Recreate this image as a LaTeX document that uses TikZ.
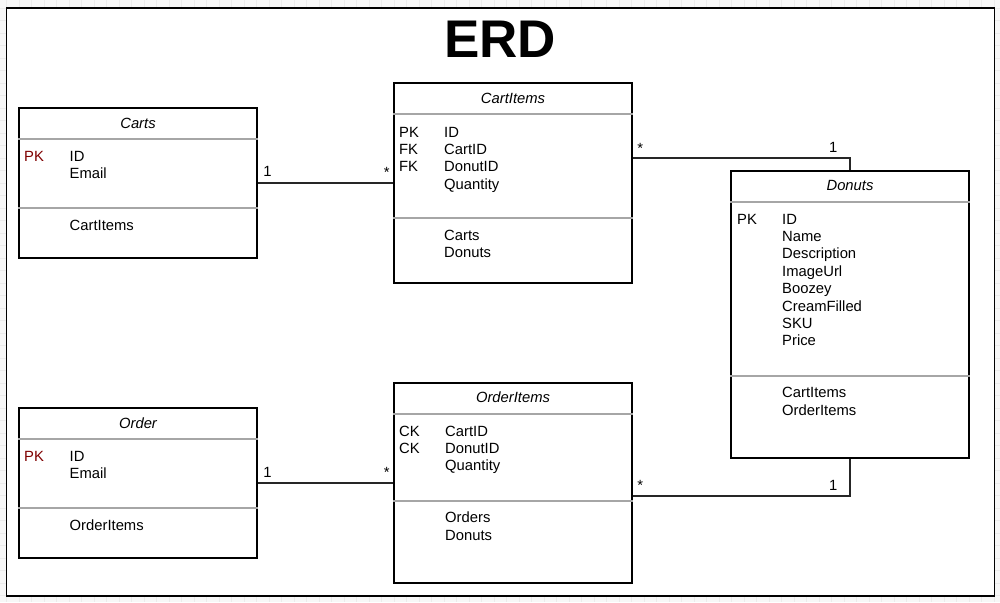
\documentclass[tikz,border=0pt]{standalone}
\usepackage{fontspec}
\setmainfont{Liberation Sans}
\definecolor{pkred}{HTML}{800000}
\definecolor{sepgray}{HTML}{A6A6A6}
\begin{document}
\begin{tikzpicture}[x=1pt, y=-1pt,
  every node/.style={font=\fontsize{14.8}{17.4}\selectfont, inner sep=0pt},
  entity/.style={draw=black, line width=1.3pt, fill=white, minimum width=238pt},
  sep/.style={draw=sepgray, line width=1.2pt},
  hdr/.style={anchor=base, font=\fontsize{14.8}{17.4}\selectfont\itshape},
  key/.style={anchor=base west},
  fld/.style={anchor=base west},
  link/.style={draw=black!85, line width=1.3pt}]
\useasboundingbox (0,0) rectangle (1000,602);
% canvas grid and frame
\fill[gray!6] (0,0) rectangle (1000,602);
\foreach \gx in {6.5,19,...,1000} \draw[gray!16, line width=0.5pt] (\gx,0) -- (\gx,602);
\foreach \gy in {8,20.5,...,602} \draw[gray!16, line width=0.5pt] (0,\gy) -- (1000,\gy);
\node[draw, line width=1.3pt, fill=white, minimum width=988pt, minimum height=588pt] (page) at (500.5,302) {};
\node[font=\fontsize{53}{60}\selectfont\bfseries, anchor=base] (title) at (500,58) {ERD};
% entities
\node[entity, minimum height=150pt] (carts) at (138,183) {};
\node[entity, minimum height=200pt] (cartitems) at (513,183) {};
\node[entity, minimum height=287pt] (donuts) at (850,314.5) {};
\node[entity, minimum height=150pt] (order) at (138,483) {};
\node[entity, minimum height=200pt] (orderitems) at (513,483) {};
\draw[sep] (carts.west |- 0,139) -- (carts.east |- 0,139);
\draw[sep] (carts.west |- 0,208) -- (carts.east |- 0,208);
\draw[sep] (cartitems.west |- 0,114) -- (cartitems.east |- 0,114);
\draw[sep] (cartitems.west |- 0,218) -- (cartitems.east |- 0,218);
\draw[sep] (donuts.west |- 0,202) -- (donuts.east |- 0,202);
\draw[sep] (donuts.west |- 0,376) -- (donuts.east |- 0,376);
\draw[sep] (order.west |- 0,439) -- (order.east |- 0,439);
\draw[sep] (order.west |- 0,508) -- (order.east |- 0,508);
\draw[sep] (orderitems.west |- 0,414) -- (orderitems.east |- 0,414);
\draw[sep] (orderitems.west |- 0,501) -- (orderitems.east |- 0,501);
% Carts
\node[hdr] (carts-h) at (138,128) {Carts};
\node[key, text=pkred] (carts-k0) at (24,161) {PK};
\foreach \f [count=\i from 0] in {ID,Email}
  \node[fld] (carts-f\i) at (69.5,161+17.4*\i) {\f};
\node[fld] (carts-n0) at (69.5,230) {CartItems};
% CartItems
\node[hdr] (cartitems-h) at (513,103) {CartItems};
\foreach \k [count=\i from 0] in {PK,FK,FK}
  \node[key] (cartitems-k\i) at (399,137+17.4*\i) {\k};
\foreach \f [count=\i from 0] in {ID,CartID,DonutID,Quantity}
  \node[fld] (cartitems-f\i) at (444,137+17.4*\i) {\f};
\foreach \f [count=\i from 0] in {Carts,Donuts}
  \node[fld] (cartitems-n\i) at (444,240+17.4*\i) {\f};
% Donuts
\node[hdr] (donuts-h) at (850,190) {Donuts};
\node[key] (donuts-k0) at (737,224) {PK};
\foreach \f [count=\i from 0] in {ID,Name,Description,ImageUrl,Boozey,CreamFilled,SKU,Price}
  \node[fld] (donuts-f\i) at (782,224+17.4*\i) {\f};
\foreach \f [count=\i from 0] in {CartItems,OrderItems}
  \node[fld] (donuts-n\i) at (782,397.7+17.4*\i) {\f};
% Order
\node[hdr] (order-h) at (138,428) {Order};
\node[key, text=pkred] (order-k0) at (24,461) {PK};
\foreach \f [count=\i from 0] in {ID,Email}
  \node[fld] (order-f\i) at (69.5,461+17.4*\i) {\f};
\node[fld] (order-n0) at (69.5,530) {OrderItems};
% OrderItems
\node[hdr] (orderitems-h) at (513,402.7) {OrderItems};
\foreach \k [count=\i from 0] in {CK,CK}
  \node[key] (orderitems-k\i) at (399,436+17.4*\i) {\k};
\foreach \f [count=\i from 0] in {CartID,DonutID,Quantity}
  \node[fld] (orderitems-f\i) at (445,436+17.4*\i) {\f};
\foreach \f [count=\i from 0] in {Orders,Donuts}
  \node[fld] (orderitems-n\i) at (445,522.7+17.4*\i) {\f};
% relations
\draw[link] (carts) -- (cartitems)
  node[pos=0, anchor=base west, xshift=5pt, yshift=7pt] (rel1-a) {1}
  node[pos=1, anchor=base east, xshift=-3pt, yshift=6pt] (rel1-b) {*};
\draw[link] (order) -- (orderitems)
  node[pos=0, anchor=base west, xshift=5pt, yshift=6pt] (rel2-a) {1}
  node[pos=1, anchor=base east, xshift=-3pt, yshift=6pt] (rel2-b) {*};
\draw[link] (cartitems.east |- 0,158) -| (donuts.north)
  node[pos=0, anchor=base west, xshift=4pt, yshift=5pt] (rel3-a) {*}
  node[pos=0.5, anchor=base east, xshift=-12pt, yshift=6pt] (rel3-b) {1};
\draw[link] (orderitems.east |- 0,496) -| (donuts.south)
  node[pos=0, anchor=base west, xshift=4pt, yshift=6pt] (rel4-a) {*}
  node[pos=0.5, anchor=base east, xshift=-12pt, yshift=6pt] (rel4-b) {1};
\end{tikzpicture}
\end{document}
